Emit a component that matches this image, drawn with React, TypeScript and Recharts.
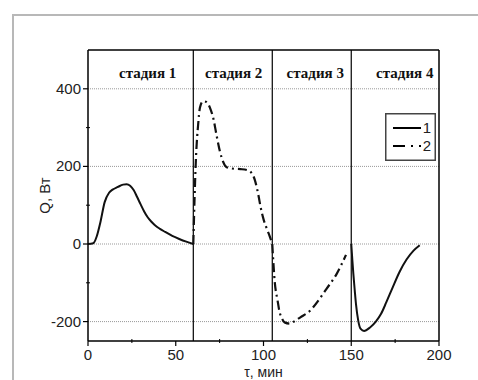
import React from "react";
import { LineChart, Line, XAxis, YAxis, ReferenceLine, ReferenceDot, Legend, Label } from "recharts";

// curve 1 (solid), stages 1 and 4
const curve1Stage1 = [
  { t: 0, q: 0 }, { t: 3, q: 2 }, { t: 5, q: 20 }, { t: 7, q: 55 }, { t: 9.5, q: 108 },
  { t: 12, q: 132 }, { t: 14, q: 140 }, { t: 17, q: 147 }, { t: 20, q: 153 }, { t: 22, q: 154 },
  { t: 24, q: 150 }, { t: 26, q: 139 }, { t: 28, q: 121 }, { t: 30, q: 102 }, { t: 32, q: 84 },
  { t: 34, q: 69 }, { t: 36, q: 58 }, { t: 38, q: 49 }, { t: 41, q: 39 }, { t: 44, q: 31 },
  { t: 48, q: 21 }, { t: 52, q: 13 }, { t: 56, q: 6 }, { t: 60, q: 0 },
];
const curve1Stage4 = [
  { t: 150, q: 0 }, { t: 150.6, q: -40 }, { t: 151.2, q: -77 }, { t: 152, q: -120 },
  { t: 152.7, q: -155 }, { t: 154, q: -198 }, { t: 155.4, q: -219 }, { t: 157.3, q: -224 },
  { t: 160.7, q: -215 }, { t: 164, q: -200 }, { t: 167, q: -180 }, { t: 170, q: -150 },
  { t: 173.5, q: -113 }, { t: 177.5, q: -72 }, { t: 181.5, q: -40 }, { t: 185.5, q: -17 },
  { t: 189, q: -3 },
];
// curve 2 (dash-dot), stages 2 and 3
const curve2Stage2 = [
  { t: 60, q: 0 }, { t: 61.5, q: 220 }, { t: 62.8, q: 310 }, { t: 63.8, q: 352 }, { t: 65.5, q: 368 },
  { t: 67.5, q: 366 }, { t: 70, q: 345 }, { t: 71.5, q: 322 }, { t: 73.3, q: 279 }, { t: 75.2, q: 238 },
  { t: 77, q: 212 }, { t: 79, q: 198 }, { t: 83, q: 194 }, { t: 87, q: 193 }, { t: 91, q: 190 },
  { t: 93, q: 184 }, { t: 95, q: 166 }, { t: 97, q: 128 }, { t: 98.5, q: 92 }, { t: 100, q: 64 },
  { t: 102, q: 38 }, { t: 103.7, q: 18 }, { t: 105, q: 0 },
];
const curve2Stage3 = [
  { t: 105, q: 0 }, { t: 106.5, q: -102 }, { t: 108, q: -145 }, { t: 109, q: -172 },
  { t: 110.5, q: -192 }, { t: 112, q: -202 }, { t: 115, q: -205 }, { t: 118, q: -198 },
  { t: 121, q: -189 }, { t: 126.5, q: -172 }, { t: 132, q: -141 }, { t: 136, q: -115 },
  { t: 141.7, q: -77 }, { t: 147, q: -28 },
];

const stageBounds = [60, 105, 150];
const stageLabels = ["стадия 1", "стадия 2", "стадия 3", "стадия 4"];
const stageLabelT = [34, 83, 129.5, 180.5];
const stageLabelQ = 441;

const xTicks = [0, 25, 50, 75, 100, 125, 150, 175, 200];
const xMajor = [0, 50, 100, 150, 200];
const yTicks = [-200, -100, 0, 100, 200, 300, 400];
const yMajor = [-200, 0, 200, 400];

const legendItems = [
  { name: "1", dash: undefined },
  { name: "2", dash: "12 6 2 6" },
];

const DASH2 = "9 4 2 4";
const SANS = "'Liberation Sans', Arial, sans-serif";
const SERIF = "'Liberation Serif', 'Times New Roman', serif";
const OFF = 7; // tickSize + tickMargin

function XTick(props: any) {
  const { x, y, payload } = props;
  const major = xMajor.includes(payload.value);
  const ay = y - OFF;
  return (
    <g>
      {major ? (
        <line x1={x} x2={x} y1={ay} y2={ay + 5} stroke="#000" strokeWidth={1.2} />
      ) : (
        <line x1={x} x2={x} y1={ay - 2} y2={ay + 2} stroke="#000" strokeWidth={1} />
      )}
      {major && (
        <text x={x} y={ay + 19} textAnchor="middle" fontSize={15} fontFamily={SANS} fill="#222">
          {payload.value}
        </text>
      )}
    </g>
  );
}

function YTick(props: any) {
  const { x, y, payload } = props;
  const major = yMajor.includes(payload.value);
  const ax = x + OFF;
  return (
    <g>
      {major ? (
        <line x1={ax - 5} x2={ax} y1={y} y2={y} stroke="#000" strokeWidth={1.2} />
      ) : (
        <line x1={ax - 2} x2={ax + 2} y1={y} y2={y} stroke="#000" strokeWidth={1} />
      )}
      {major && (
        <text x={ax - 7} y={y + 5} textAnchor="end" fontSize={15} fontFamily={SANS} fill="#222">
          {payload.value}
        </text>
      )}
    </g>
  );
}

function LegendBox() {
  return (
    <svg width={51} height={48}>
      <rect x={0.75} y={0.75} width={49.5} height={46.5} fill="#fff" stroke="#444" strokeWidth={1.5} />
      {legendItems.map((it, i) => (
        <g key={it.name}>
          <line x1={8} x2={36} y1={15 + i * 18} y2={15 + i * 18} stroke="#000" strokeWidth={2} strokeDasharray={it.dash} />
          <text x={46} y={20 + i * 18} textAnchor="end" fontSize={15} fontFamily={SANS} fill="#222">
            {it.name}
          </text>
        </g>
      ))}
    </svg>
  );
}

export default function App() {
  return (
    <div style={{ position: "absolute", left: 0, top: 0, width: 478, height: 380, background: "#fff", overflow: "hidden" }}>
      <div
        style={{
          position: "absolute",
          left: 12,
          top: 14,
          width: 480,
          height: 380,
          border: "2px solid #b8b8b8",
          boxSizing: "border-box",
        }}
      />
      <LineChart width={478} height={380} margin={{ top: 50, right: 39, bottom: 0, left: 0 }}>
        <XAxis
          type="number"
          dataKey="t"
          domain={[0, 200]}
          ticks={xTicks}
          tick={(p: any) => <XTick {...p} />}
          tickLine={false}
          tickSize={5}
          tickMargin={2}
          axisLine={{ stroke: "#000", strokeWidth: 1.5 }}
          height={39}
          allowDataOverflow
        >
          <Label value="τ, мин" position="center" dy={12} fontSize={14} fontFamily={SANS} fill="#222" />
        </XAxis>
        <YAxis
          type="number"
          dataKey="q"
          domain={[-250, 500]}
          ticks={yTicks}
          tick={(p: any) => <YTick {...p} />}
          tickLine={false}
          tickSize={5}
          tickMargin={2}
          axisLine={{ stroke: "#000", strokeWidth: 1.5 }}
          width={88}
          allowDataOverflow
        >
          <Label value="Q, Вт" angle={-90} position="center" dx={1} fontSize={15} fontFamily={SANS} fill="#222" />
        </YAxis>
        {yMajor.map((v) => (
          <ReferenceLine key={v} y={v} stroke="#999" strokeWidth={1} strokeDasharray="1 1" />
        ))}
        <ReferenceLine y={500} stroke="#000" strokeWidth={1.5} />
        <ReferenceLine x={200} stroke="#000" strokeWidth={1.5} />
        {stageBounds.map((v) => (
          <ReferenceLine key={v} x={v} stroke="#000" strokeWidth={1.2} />
        ))}
        {stageLabels.map((s, i) => (
          <ReferenceDot
            key={s}
            x={stageLabelT[i]}
            y={stageLabelQ}
            r={0}
            fill="none"
            stroke="none"
            label={{ value: s, position: "center", fontSize: 15, fontWeight: "bold", fontFamily: SERIF, fill: "#111" }}
          />
        ))}
        <Line data={curve1Stage1} dataKey="q" type="monotone" stroke="#111" strokeWidth={2} dot={false} isAnimationActive={false} />
        <Line data={curve1Stage4} dataKey="q" type="monotone" stroke="#111" strokeWidth={2} dot={false} isAnimationActive={false} />
        <Line data={curve2Stage2} dataKey="q" type="monotone" stroke="#111" strokeWidth={2.2} strokeDasharray={DASH2} dot={false} isAnimationActive={false} />
        <Line data={curve2Stage3} dataKey="q" type="monotone" stroke="#111" strokeWidth={2.2} strokeDasharray={DASH2} dot={false} isAnimationActive={false} />
        <Legend
          layout="horizontal"
          verticalAlign="middle"
          align="center"
          content={() => <LegendBox />}
          wrapperStyle={{ position: "absolute", left: 385, top: 113, width: 51, height: 48 }}
        />
      </LineChart>
    </div>
  );
}
